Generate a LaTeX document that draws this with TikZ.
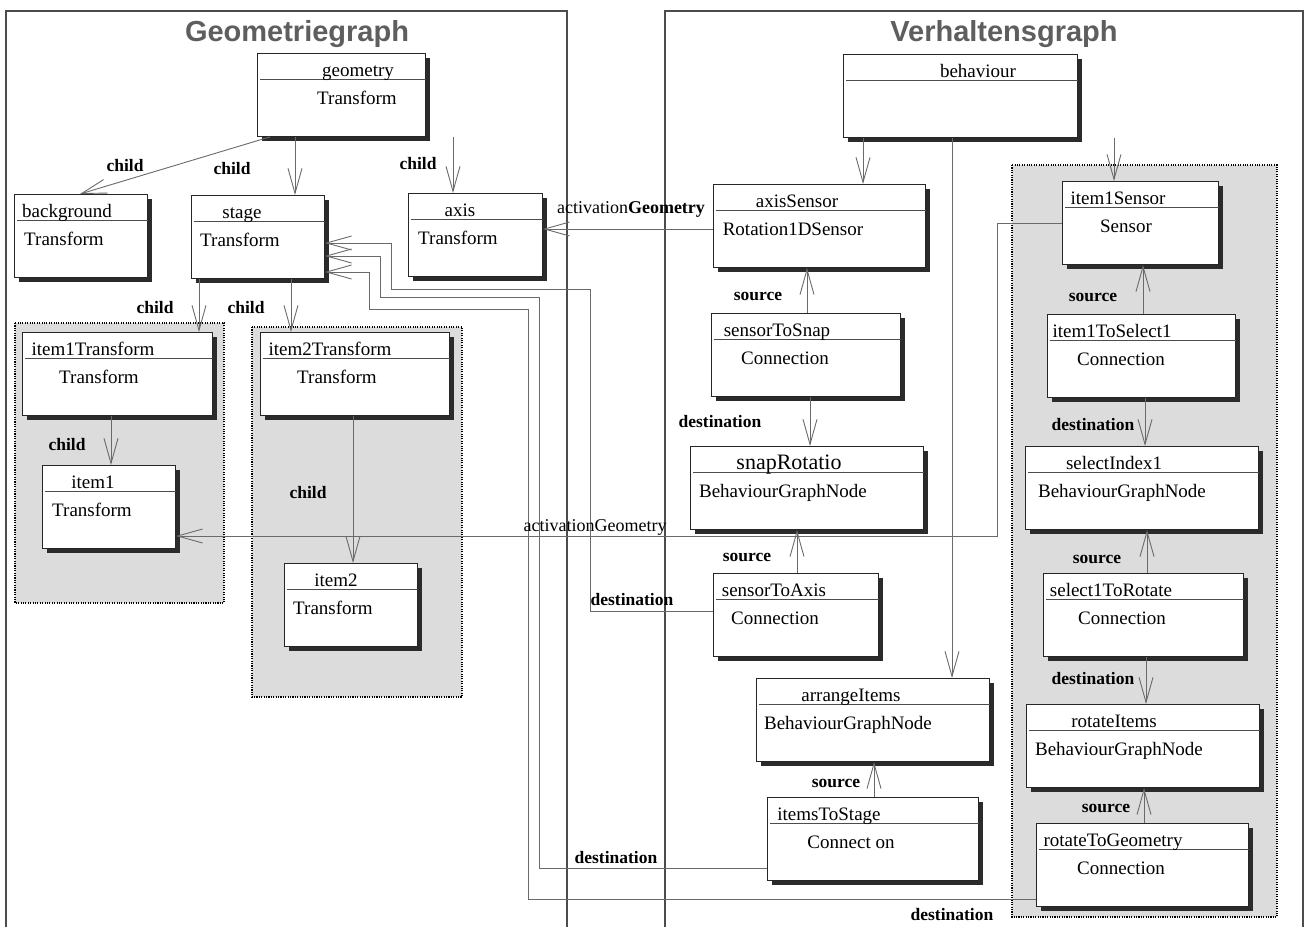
\documentclass[tikz,border=0pt]{standalone}
\usepackage{fontspec}
\setmainfont{Liberation Serif}
\newfontfamily\titlefont{Liberation Sans}
\usetikzlibrary{arrows.meta,shadows}

\definecolor{linegray}{HTML}{6A6A6A}
\definecolor{shadowgray}{HTML}{2B2B2B}
\definecolor{groupgray}{HTML}{DCDCDC}
\definecolor{titlegray}{HTML}{5E5E5E}

\tikzset{
  umlbox/.style={draw=black!85, line width=0.9pt, fill=white, anchor=north west,
    minimum height=83pt, inner sep=0pt,
    drop shadow={shadow xshift=5pt, shadow yshift=-5pt, fill=shadowgray, opacity=1}},
  hdrline/.style={draw=black!70, line width=0.8pt},
  hdrtext/.style={anchor=base, inner sep=0pt, font=\fontsize{19}{21}\selectfont},
  typetext/.style={anchor=base, inner sep=0pt, font=\fontsize{19}{21}\selectfont},
  conn/.style={draw=linegray, line width=0.9pt, -{Straight Barb[length=25pt,width=14pt]}},
  role/.style={inner sep=0pt, font=\fontsize{17.5}{19}\selectfont\bfseries},
  actlbl/.style={inner sep=0pt, font=\fontsize{18}{20}\selectfont},
  panel/.style={draw=black!70, line width=1.2pt},
  grpbox/.style={draw=black, fill=groupgray, line width=1.1pt, dash pattern=on 1.1pt off 1.3pt},
  ttl/.style={inner sep=0pt, text=titlegray, font=\titlefont\fontsize{29}{31}\selectfont\bfseries}
}

% id, x, y, width, name, name-x, type, type-x
\newcommand{\umlobj}[8]{%
  \node[umlbox, minimum width=#4pt] (#1) at (#2,#3) {};
  \draw[hdrline] ([xshift=3pt,yshift=-26pt]#1.north west) -- ([yshift=-26pt]#1.north east);
  \node[hdrtext] (#1-name) at ([xshift=#6pt,yshift=-23pt]#1.north west) {#5};
  \node[typetext] (#1-type) at ([xshift=#8pt,yshift=-51pt]#1.north west) {#7};
}

\begin{document}
\begin{tikzpicture}[x=1pt,y=-1pt]
  \useasboundingbox (0,0) rectangle (1305,927);

  \draw[panel] (6,927) -- (6,11) -- (567,11) -- (567,927);
  \draw[panel] (665,927) -- (665,11) -- (1303,11) -- (1303,927);
  \node[ttl] (geotitle) at (297,34) {Geometriegraph};
  \node[ttl] (behtitle) at (1004,34) {Verhaltensgraph};

  \draw[grpbox] (15,323) rectangle (224,603);
  \draw[grpbox] (252,327) rectangle (462,697);
  \draw[grpbox] (1012,165) rectangle (1277,917);

  \umlobj{geometry}{257}{53}{168}{geometry}{101}{Transform}{100}
  \umlobj{background}{14}{194}{133}{background}{53}{Transform}{50}
  \umlobj{stage}{191}{195}{133}{stage}{51}{Transform}{49}
  \umlobj{axis}{408}{193}{134}{axis}{52}{Transform}{50}
  \umlobj{item1Transform}{22}{332}{190}{item1Transform}{71}{Transform}{77}
  \umlobj{item1}{42}{465}{133}{item1}{51}{Transform}{50}
  \umlobj{item2Transform}{260}{332}{189}{item2Transform}{70}{Transform}{77}
  \umlobj{item2}{284}{563}{133}{item2}{52}{Transform}{49}

  \umlobj{behaviour}{843}{54}{234}{behaviour}{135}{}{100}
  \umlobj{axisSensor}{713}{184}{212}{axisSensor}{84}{Rotation1DSensor}{80}
  \umlobj{sensorToSnap}{711}{313}{189}{sensorToSnap}{66}{Connection}{74}
  \umlobj{snapRotatio}{690}{446}{233}{{\fontsize{22}{23}\selectfont snapRotatio}}{99}{BehaviourGraphNode}{93}
  \umlobj{sensorToAxis}{713}{573}{165}{sensorToAxis}{61}{Connection}{62}
  \umlobj{arrangeItems}{756}{678}{233}{arrangeItems}{95}{BehaviourGraphNode}{92}
  \umlobj{itemsToStage}{767}{797}{211}{itemsToStage}{62}{Connect on}{84}
  \umlobj{item1Sensor}{1062}{181}{156}{item1Sensor}{56}{Sensor}{64}
  \umlobj{item1ToSelect1}{1047}{314}{188}{item1ToSelect1}{65}{Connection}{74}
  \umlobj{selectIndex1}{1025}{446}{233}{selectIndex1}{89}{BehaviourGraphNode}{97}
  \umlobj{select1ToRotate}{1043}{573}{200}{select1ToRotate}{68}{Connection}{79}
  \umlobj{rotateItems}{1026}{704}{233}{rotateItems}{88}{BehaviourGraphNode}{93}
  \umlobj{rotateToGeometry}{1036}{823}{212}{rotateToGeometry}{77}{Connection}{85}

  \draw[conn] ([xshift=13pt]geometry.south west) -- ([xshift=66pt]background.north west);
  \draw[conn] ([xshift=38pt]geometry.south west) -- ([xshift=104pt]stage.north west);
  \draw[conn] ([xshift=196pt]geometry.south west) -- ([xshift=45pt]axis.north west);
  \draw[conn] ([xshift=8pt]stage.south west) -- ([xshift=177pt]item1Transform.north west);
  \draw[conn] ([xshift=100pt]stage.south west) -- ([xshift=31pt]item2Transform.north west);
  \draw[conn] ([xshift=89pt]item1Transform.south west) -- ([xshift=69pt]item1.north west);
  \draw[conn] ([xshift=93pt]item2Transform.south west) -- ([xshift=69pt]item2.north west);

  \draw[conn] ([xshift=20pt]behaviour.south west) -- ([xshift=150pt]axisSensor.north west);
  \draw[conn] ([xshift=109pt]behaviour.south west) -- ([xshift=196pt]arrangeItems.north west);
  \draw[conn] ([xshift=271pt]behaviour.south west) -- ([xshift=52pt]item1Sensor.north west);

  \draw[conn] ([yshift=-45pt]axisSensor.north west) -- ([yshift=-36pt]axis.north east);
  \draw[conn] ([yshift=-42pt]item1Sensor.north west) -- ++(-65,0) |- ([yshift=-71pt]item1.north east);

  \draw[conn] ([xshift=96pt]sensorToSnap.north west) -- ([xshift=94pt]axisSensor.south west);
  \draw[conn] ([xshift=99pt]sensorToSnap.south west) -- ([xshift=120pt]snapRotatio.north west);
  \draw[conn] ([xshift=84pt]sensorToAxis.north west) -- ([xshift=107pt]snapRotatio.south west);
  \draw[conn] ([xshift=107pt]itemsToStage.north west) -- ([xshift=118pt]arrangeItems.south west);
  \draw[conn] ([xshift=96pt]item1ToSelect1.north west) -- ([xshift=81pt]item1Sensor.south west);
  \draw[conn] ([xshift=98pt]item1ToSelect1.south west) -- ([xshift=120pt]selectIndex1.north west);
  \draw[conn] ([xshift=104pt]select1ToRotate.north west) -- ([xshift=122pt]selectIndex1.south west);
  \draw[conn] ([xshift=103pt]select1ToRotate.south west) -- ([xshift=120pt]rotateItems.north west);
  \draw[conn] ([xshift=108pt]rotateToGeometry.north west) -- ([xshift=118pt]rotateItems.south west);

  \draw[conn] ([yshift=-38pt]sensorToAxis.north west) -- ++(-123,0) -- ++(0,-322) -- ++(-199,0)
    |- ([yshift=-48pt]stage.north east);
  \draw[conn] ([yshift=-71pt]itemsToStage.north west) -- ++(-228,0) -- ++(0,-571) -- ++(-159,0)
    |- ([yshift=-61pt]stage.north east);
  \draw[conn] ([yshift=-76pt]rotateToGeometry.north west) -- ++(-508,0) -- ++(0,-590) -- ++(-159,0)
    |- ([yshift=-77pt]stage.north east);

  \node[role] (c1) at (125,166) {child};
  \node[role] (c2) at (232,169) {child};
  \node[role] (c3) at (418,164) {child};
  \node[role] (c4) at (155,308) {child};
  \node[role] (c5) at (246,308) {child};
  \node[role] (c6) at (67,445) {child};
  \node[role] (c7) at (308,493) {child};
  \node[actlbl] (a1) at (631,209) {activation\textbf{Geometry}};
  \node[actlbl] (a2) at (595,527) {activationGeometry};
  \node[role] (s1) at (758,296) {source};
  \node[role] (d1) at (720,422) {destination};
  \node[role] (s2) at (747,557) {source};
  \node[role] (d2) at (632,600) {destination};
  \node[role] (s3) at (836,783) {source};
  \node[role] (d3) at (616,857) {destination};
  \node[role] (s4) at (1093,297) {source};
  \node[role] (d4) at (1093,425) {destination};
  \node[role] (s5) at (1097,559) {source};
  \node[role] (d5) at (1093,679) {destination};
  \node[role] (s6) at (1106,808) {source};
  \node[role] (d6) at (952,914) {destination};
\end{tikzpicture}
\end{document}
